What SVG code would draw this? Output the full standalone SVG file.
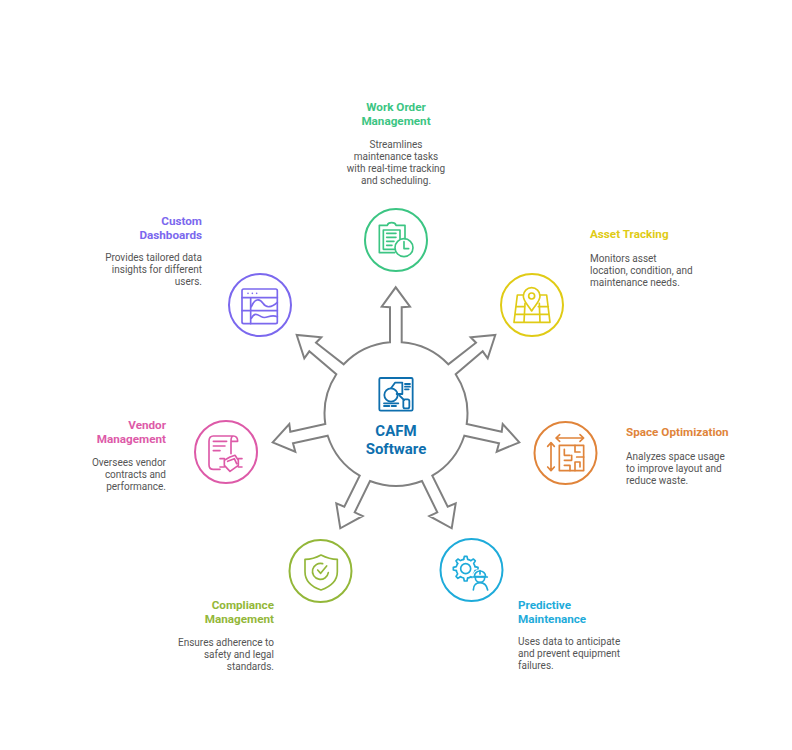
<svg xmlns="http://www.w3.org/2000/svg" width="792" height="750" viewBox="0 0 792 750">
<style>
text{font-family:Roboto,"Liberation Sans",sans-serif}
.t{font-size:11.7px;font-weight:700}
.b{font-size:10px;fill:#555}
.m{text-anchor:middle}.e{text-anchor:end}
.ring{fill:#fff;stroke-width:2}
.ic{fill:none;stroke-width:5;stroke-linejoin:round;stroke-linecap:round}
.green{stroke:#3cc583}.yellow{stroke:#e0cb15}.orange{stroke:#e0843a}.cyan{stroke:#1eabda}.lime{stroke:#93b739}.pink{stroke:#dd5aa8}.violet{stroke:#7b68ee}
</style>
<rect width="792" height="750" fill="#fff"/>
<g id="connectors">
<path fill="#fff" stroke="#808080" stroke-width="2" stroke-linejoin="miter" d="M390 342.3V307.3L381.7 306.7L395.7 287.3L410 306.7L401.7 307.3V342.3A72 72 0 0 1 448.3 364.3L476 342.7L470.7 337.3L495.3 335L487.7 358.3L482.7 351.3L455.7 374.3A72 72 0 0 1 466.7 424L501.7 431.7L502.7 424L519.3 442.3L496.7 451.7L499 443.3L464.3 435.7A72 72 0 0 1 432.3 475.7L447.7 506.7L455.7 503.3L451.7 528.3L429.3 516L437.3 512.3L422 481A72 72 0 0 1 370 481L354.7 512.3L362.7 516L340.3 528.3L336.3 503.3L344.3 506.7L359.7 475.7A72 72 0 0 1 327.7 435.7L293 443.3L295.3 451.7L272.7 442.3L289.3 424L290.3 431.7L325.3 424A72 72 0 0 1 336.3 374.3L309.3 351.3L304.3 358.3L296.7 335L321.3 337.3L316 342.7L343.7 364.3A72 72 0 0 1 390 342.3Z"/>
</g>
<g id="center">
<g transform="translate(370 370) scale(.3333)" fill="none" stroke="#0e6fae" stroke-width="5.4" stroke-linecap="round" stroke-linejoin="round">
<rect x="28" y="24" width="100" height="98" rx="4"/>
<circle cx="63" cy="75" r="20"/>
<path d="M63 55L75 38H97V72H80M105 42H120M105 50H120M105 58H116M88 76L102 90"/>
<rect x="100" y="88" width="18" height="27" rx="5"/>
<path d="M42 100H85M42 108H58M65 108H78"/>
</g>
<text class="m" x="396" y="436" font-size="15" font-weight="700" fill="#0e6fae">CAFM</text>
<text class="m" x="396" y="454" font-size="15" font-weight="700" fill="#0e6fae">Software</text>
</g>
<g id="work-order">
<circle class="ring green" cx="396" cy="240" r="31"/>
<g class="ic green" transform="translate(350 200) scale(.3333)">
<path d="M134 158H88V76H112Q114 68 125 68Q136 68 138 76H165V116"/>
<path d="M134 148H100V90H150V116M110 100H138M110 112H138M110 124H132M110 136H126"/>
<circle cx="162" cy="143" r="27"/>
<path d="M162 125V146H176"/>
</g>
<text class="t m" x="396" y="110.5" fill="#3cc583">Work Order</text>
<text class="t m" x="396" y="124.5" fill="#3cc583">Management</text>
<text class="b m" x="396" y="148">Streamlines</text>
<text class="b m" x="396" y="160">maintenance tasks</text>
<text class="b m" x="396" y="172">with real-time tracking</text>
<text class="b m" x="396" y="184">and scheduling.</text>
</g>
<g id="asset-tracking">
<circle class="ring yellow" cx="532" cy="305" r="31"/>
<g class="ic yellow" transform="translate(490 265) scale(.3333)">
<path d="M100 90H82L72 172H180L170 90H150M78 125H105M145 125H175M75 148H177M105 115L102 172M148 115L150 172"/>
<path d="M125 138C110 115 100 108 100 93A25 25 0 0 1 150 93C150 108 140 115 125 138Z"/>
<circle cx="125" cy="93" r="9"/>
</g>
<text class="t" x="590" y="237.5" fill="#e0cb15">Asset Tracking</text>
<text class="b" x="590" y="262">Monitors asset</text>
<text class="b" x="590" y="274">location, condition, and</text>
<text class="b" x="590" y="286">maintenance needs.</text>
</g>
<g id="space-optimization">
<circle class="ring orange" cx="565.5" cy="453" r="31"/>
<g class="ic orange" transform="translate(525 412) scale(.3333)">
<path d="M94 78H175M104 68L93 78L104 88M165 68L176 78L165 88M78 93V175M68 103L78 92L88 103M68 165L78 176L88 165"/>
<path d="M103 100H176V176H103Z"/>
<path d="M118 112V130H135M150 100V120H165M118 145H140V130M155 135H176M118 160H135V176M150 176V150H165V165"/>
</g>
<text class="t" x="626" y="435.5" fill="#e0843a">Space Optimization</text>
<text class="b" x="626" y="460">Analyzes space usage</text>
<text class="b" x="626" y="472">to improve layout and</text>
<text class="b" x="626" y="484">reduce waste.</text>
</g>
<g id="predictive-maintenance">
<circle class="ring cyan" cx="471.5" cy="570" r="31"/>
<g class="ic cyan" transform="translate(430 530) scale(.3333)">
<g transform="translate(107 116)">
<path d="M-6 -28L-4 -37H4L6 -28A29 29 0 0 1 15.6 -24"/>
<path transform="rotate(45)" d="M-6 -28L-4 -37H4L6 -28A29 29 0 0 1 15.6 -24"/>
<path transform="rotate(90)" d="M-6 -28L-4 -37H4L6 -28A29 29 0 0 1 15.6 -24"/>
<path transform="rotate(135)" d="M-6 -28L-4 -37H4L6 -28A29 29 0 0 1 15.6 -24"/>
<path transform="rotate(180)" d="M-6 -28L-4 -37H4L6 -28A29 29 0 0 1 15.6 -24"/>
<path transform="rotate(225)" d="M-6 -28L-4 -37H4L6 -28A29 29 0 0 1 15.6 -24"/>
<path transform="rotate(270)" d="M-6 -28L-4 -37H4L6 -28A29 29 0 0 1 15.6 -24"/>
<path transform="rotate(315)" d="M-6 -28L-4 -37H4L6 -28A29 29 0 0 1 15.6 -24"/>
<circle r="15"/>
</g>
<circle cx="150" cy="142" r="24" fill="#fff" stroke="none"/>
<path fill="#fff" d="M133 140A17 17 0 0 1 167 140Z"/>
<path d="M128 141H172M150 122V132M136 143A14 14 0 0 0 164 143"/>
<path d="M130 180C130 165 140 158 150 158C160 158 170 165 173 180"/>
</g>
<text class="t" x="518" y="608.5" fill="#1eabda">Predictive</text>
<text class="t" x="518" y="622.5" fill="#1eabda">Maintenance</text>
<text class="b" x="518" y="645">Uses data to anticipate</text>
<text class="b" x="518" y="657">and prevent equipment</text>
<text class="b" x="518" y="669">failures.</text>
</g>
<g id="compliance-management">
<circle class="ring lime" cx="320.5" cy="571" r="31"/>
<g class="ic lime" transform="translate(280 530) scale(.3333)">
<path d="M75 88Q100 88 123 75Q148 88 172 88V125C172 155 145 172 123 180C100 172 75 155 75 125Z"/>
<path d="M145 128A24 24 0 1 1 128 101M113 120L122 130L140 108"/>
</g>
<text class="t e" x="274" y="608.5" fill="#93b739">Compliance</text>
<text class="t e" x="274" y="622.5" fill="#93b739">Management</text>
<text class="b e" x="274" y="646">Ensures adherence to</text>
<text class="b e" x="274" y="658">safety and legal</text>
<text class="b e" x="274" y="670">standards.</text>
</g>
<g id="vendor-management">
<circle class="ring pink" cx="226" cy="452" r="31"/>
<g class="ic pink" transform="translate(185 412) scale(.3333)">
<path d="M105 172H85C76 172 72 166 72 158V88C72 78 76 72 85 72H145C155 72 158 80 158 88H138C138 80 140 72 145 72M138 88V125"/>
<path d="M85 88H125M85 102H120M85 116H105"/>
<path d="M105 140H118M105 165H118M171 140H160M171 165H160M118 145L135 135L150 130L160 145V160L135 178L118 160ZM128 148L148 140L155 155"/>
</g>
<text class="t e" x="166" y="428.5" fill="#dd5aa8">Vendor</text>
<text class="t e" x="166" y="442.5" fill="#dd5aa8">Management</text>
<text class="b e" x="166" y="466">Oversees vendor</text>
<text class="b e" x="166" y="478">contracts and</text>
<text class="b e" x="166" y="490">performance.</text>
</g>
<g id="custom-dashboards">
<circle class="ring violet" cx="260" cy="305" r="31"/>
<g class="ic violet" transform="translate(218 265) scale(.3333)">
<rect x="72" y="72" width="106" height="104" rx="5"/>
<path d="M72 98H178M98 98V176M72 137H178M90 85H90.1M103 85H103.1M116 85H116.1"/>
<path d="M100 125C110 100 125 100 135 115C145 130 160 128 178 112M100 160C110 140 120 150 130 155C145 165 155 145 178 155"/>
</g>
<text class="t e" x="202" y="224.5" fill="#7b68ee">Custom</text>
<text class="t e" x="202" y="238.5" fill="#7b68ee">Dashboards</text>
<text class="b e" x="202" y="261">Provides tailored data</text>
<text class="b e" x="202" y="273">insights for different</text>
<text class="b e" x="202" y="285">users.</text>
</g>
</svg>
